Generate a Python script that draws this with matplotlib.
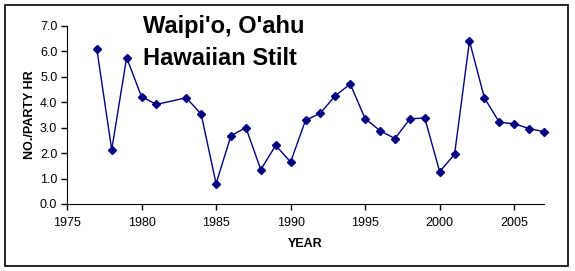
import matplotlib
matplotlib.use("Agg")
import matplotlib.pyplot as plt
from matplotlib.patches import Rectangle

plt.rcParams['font.family'] = ['Liberation Sans', 'DejaVu Sans']

# stilt counts per party hour, Waipi'o
years = [1977, 1978, 1979, 1980, 1981, 1983, 1984, 1985, 1986, 1987, 1988, 1989,
         1990, 1991, 1992, 1993, 1994, 1995, 1996, 1997, 1998, 1999, 2000, 2001,
         2002, 2003, 2004, 2005, 2006, 2007]
per_hr = [6.09, 2.13, 5.75, 4.21, 3.91, 4.17, 3.53, 0.80, 2.68, 3.00, 1.35, 2.30,
          1.65, 3.28, 3.57, 4.25, 4.71, 3.35, 2.88, 2.57, 3.34, 3.38, 1.27, 1.95,
          6.40, 4.17, 3.21, 3.15, 2.96, 2.84]
yticks = [0, 1, 2, 3, 4, 5, 6, 7]
xticks = [1975, 1980, 1985, 1990, 1995, 2000, 2005]

W, H = 575, 271
fig = plt.figure(figsize=(W / 100, H / 100), dpi=100)
fig.patches.append(Rectangle((5 / W, 1 - 266 / H), 563 / W, 261 / H,
                             transform=fig.transFigure, fill=False,
                             edgecolor='black', linewidth=1.2))

ax = fig.add_axes([67 / W, 1 - 204 / H, (544 - 67) / W, (204 - 25.7) / H])
ax.plot(years, per_hr, color='#000080', linewidth=1, marker='D',
        markersize=4.5, markerfacecolor='#000080', markeredgecolor='#000080',
        clip_on=False)

ax.set_xlim(1975, 2007)
ax.set_ylim(0, 7)
ax.set_xticks(xticks)
ax.set_yticks(yticks)
ax.set_yticklabels(['%.1f' % v for v in yticks])
ax.spines['top'].set_visible(False)
ax.spines['right'].set_visible(False)
ax.tick_params(direction='out', length=4, width=1, labelsize=9, pad=3)
ax.tick_params(axis='x', pad=5)
ax.set_xlabel('YEAR', fontsize=9, fontweight='bold', labelpad=7)
ax.set_ylabel('NO./PARTY HR', fontsize=9, fontweight='bold', labelpad=3)

fig.text(143 / W, 1 - 33 / H, "Waipi'o, O'ahu", fontsize=17, fontweight='bold',
         va='baseline', ha='left')
fig.text(143 / W, 1 - 65 / H, "Hawaiian Stilt", fontsize=17, fontweight='bold',
         va='baseline', ha='left')

fig.savefig('out.png', dpi=100)
